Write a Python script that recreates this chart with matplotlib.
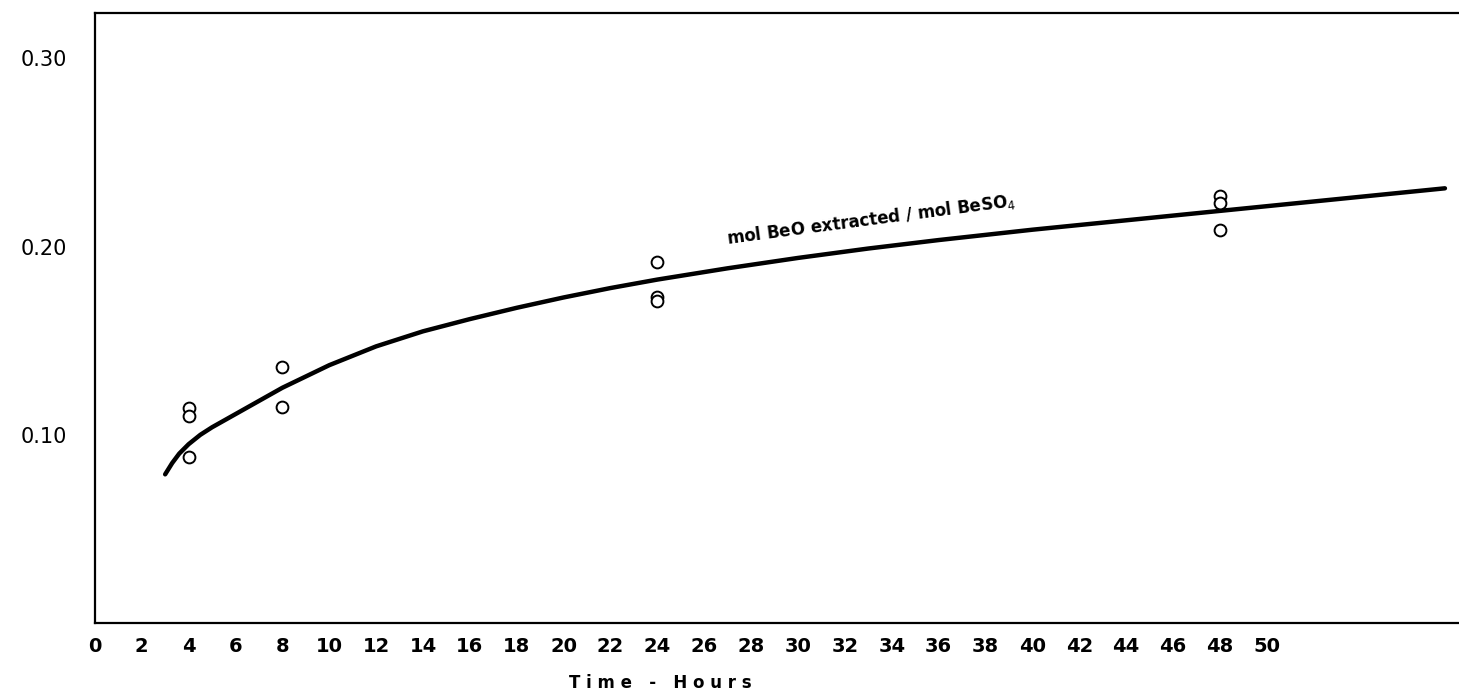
import matplotlib
matplotlib.use('Agg')
import matplotlib.pyplot as plt
import numpy as np

#Measured points (hours, mol BeO extracted / mol BeSO4)
hours = [4, 4, 4, 8, 8, 24, 24, 24, 48, 48, 48]
ratio = [0.114, 0.110, 0.088, 0.136, 0.115, 0.192, 0.173, 0.171, 0.227, 0.223, 0.209]

#Smooth hand-drawn curve through the points
curve_t = [3.0, 3.3, 3.6, 4.0, 4.5, 5, 6, 7, 8, 9, 10, 12, 14, 16, 18, 20, 22, 24,
           27, 30, 33, 36, 40, 44, 48, 52, 57.6]
curve_v = [0.079, 0.085, 0.090, 0.095, 0.100, 0.104, 0.111, 0.118, 0.125, 0.131,
           0.137, 0.147, 0.155, 0.1615, 0.1675, 0.173, 0.178, 0.1825, 0.1885, 0.1940,
           0.1990, 0.2035, 0.2090, 0.2140, 0.2190, 0.2240, 0.2310]

xticks = list(range(0, 52, 2))
xlabels = [str(t) for t in xticks]
yticks = [0.10, 0.20, 0.30]
ylabels = ['0.10', '0.20', '0.30']

fig = plt.figure(figsize=(14.59, 7.0), dpi=100)
ax = fig.add_axes([0.065, 0.11, 0.935, 0.871])

#Curve and measured points
ax.plot(curve_t, curve_v, color='black', lw=3.2, solid_capstyle='round',
        solid_joinstyle='round')
ax.plot(hours, ratio, 'o', mfc='white', mec='black', ms=8.5, mew=1.4, zorder=3)

ax.text(33.1, 0.2145, 'mol BeO extracted / mol BeSO$_4$', rotation=7.5,
        ha='center', va='center', fontsize=12, fontweight='bold')

#Axes limits, ticks, spines
ax.set_xlim(0, 58.2)
ax.set_ylim(0, 0.324)
ax.set_xticks(xticks)
ax.set_xticklabels(xlabels, fontsize=14, fontweight='bold')
ax.set_yticks(yticks)
ax.set_yticklabels(ylabels, fontsize=15)
ax.tick_params(axis='x', length=0, pad=10)
ax.tick_params(axis='y', length=0, pad=20)
ax.spines['right'].set_visible(False)
for s in ['left', 'top', 'bottom']:
    ax.spines[s].set_linewidth(1.6)

fig.text(660 / 1459, 1 - 683 / 700, 'T i m e   -   H o u r s', ha='center', va='center',
         fontsize=12, fontweight='bold')

fig.savefig('out.png', dpi=100)
